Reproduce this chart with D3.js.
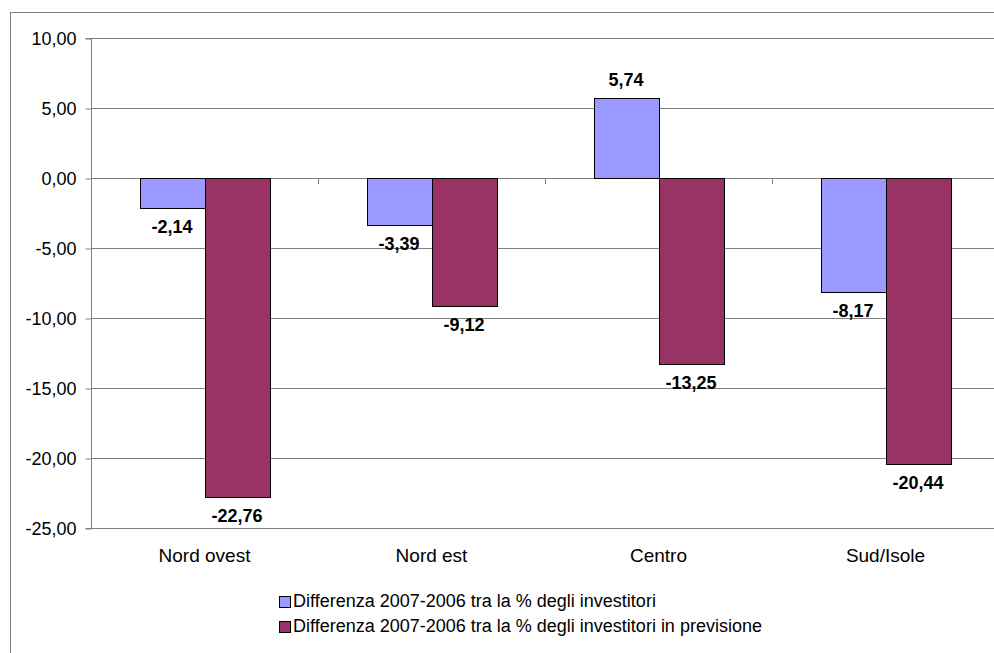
<!DOCTYPE html>
<html>
<head>
<meta charset="utf-8">
<script src="https://cdn.jsdelivr.net/npm/d3@7"></script>
<style>
  body { margin: 0; background: #fff; }
  text { font-family: "Liberation Sans", Arial, sans-serif; fill: #000; }
</style>
</head>
<body>
<script>
// categories and series
var categories = ["Nord ovest", "Nord est", "Centro", "Sud/Isole"];
var seriesNames = [
    "Differenza 2007-2006 tra la % degli investitori",
    "Differenza 2007-2006 tra la % degli investitori in previsione"
];
var investitori = [-2.14, -3.39, 5.74, -8.17];
var previsione = [-22.76, -9.12, -13.25, -20.44];
var yTicks = [10, 5, 0, -5, -10, -15, -20, -25];
var colors = ["#9999FF", "#993366"];

var w = 994, h = 653;

var svg = d3.select("body").append("svg")
    .attr("width", w)
    .attr("height", h);

// outer chart border (runs off the right/bottom edge)
svg.append("rect")
    .attr("x", 10.5).attr("y", 12.5)
    .attr("width", 1000).attr("height", 700)
    .style("fill", "none")
    .style("stroke", "#808080");

// plot area
var plotLeft = 91, plotRight = 999, plotTop = 38, plotBottom = 528;

var y = d3.scaleLinear()
    .domain([-25, 10])
    .range([plotBottom, plotTop]);

var x = d3.scaleBand()
    .domain(categories)
    .range([plotLeft, plotRight]);

var barW = 65;

// gridlines
svg.selectAll(".grid")
    .data(yTicks)
    .enter()
    .append("line")
    .attr("class", "grid")
    .attr("x1", plotLeft).attr("x2", plotRight)
    .attr("y1", function (d) { return Math.round(y(d)) + 0.5; })
    .attr("y2", function (d) { return Math.round(y(d)) + 0.5; })
    .style("stroke", "#808080");

// italian number format with plain hyphen minus
var itLocale = d3.formatLocale({
    decimal: ",", thousands: ".", grouping: [3], currency: ["", " €"], minus: "-"
});
var fmt = itLocale.format(".2f");

// y axis
var yAxis = d3.axisLeft(y)
    .tickValues(yTicks)
    .tickSize(6)
    .tickPadding(9)
    .tickFormat(fmt);

var axis = svg.append("g")
    .attr("transform", "translate(" + (plotLeft + 0.5) + ",0.5)")
    .call(yAxis);
axis.selectAll("path, line").style("stroke", "#808080");
axis.select(".domain").attr("d", "M-6," + plotTop + "H0V" + plotBottom + "H-6");
axis.selectAll("text")
    .style("font-size", "18px")
    .style("font-family", "Liberation Sans, Arial, sans-serif");

// category tick marks on zero line
svg.selectAll(".ctick")
    .data(categories.slice(1))
    .enter()
    .append("line")
    .attr("x1", function (d) { return Math.round(x(d)) + 0.5; })
    .attr("x2", function (d) { return Math.round(x(d)) + 0.5; })
    .attr("y1", y(0))
    .attr("y2", y(0) + 6)
    .style("stroke", "#808080");

// bars
var series = [investitori, previsione];
series.forEach(function (vals, s) {
    svg.selectAll(".bar" + s)
        .data(vals)
        .enter()
        .append("rect")
        .attr("class", "bar" + s)
        .attr("x", function (d, i) {
            return Math.round(x(categories[i]) + x.bandwidth() / 2 - barW + s * barW) + 0.5;
        })
        .attr("y", function (d) { return Math.round(y(Math.max(0, d))) + 0.5; })
        .attr("width", barW)
        .attr("height", function (d) { return Math.round(Math.abs(y(d) - y(0))); })
        .style("fill", colors[s])
        .style("stroke", "#000")
        .style("stroke-width", 1);

    // value labels
    svg.selectAll(".lab" + s)
        .data(vals)
        .enter()
        .append("text")
        .attr("class", "lab" + s)
        .attr("text-anchor", "middle")
        .attr("x", function (d, i) {
            return x(categories[i]) + x.bandwidth() / 2 - barW / 2 + s * barW;
        })
        .attr("y", function (d) { return d >= 0 ? y(d) - 12 : y(d) + 25; })
        .style("font-size", "18px")
        .style("font-weight", "bold")
        .text(fmt);
});

// category labels
svg.selectAll(".cat")
    .data(categories)
    .enter()
    .append("text")
    .attr("class", "cat")
    .attr("text-anchor", "middle")
    .attr("x", function (d) { return x(d) + x.bandwidth() / 2; })
    .attr("y", 562)
    .style("font-size", "19px")
    .text(function (d) { return d; });

// legend
var legend = svg.selectAll(".legend")
    .data(seriesNames)
    .enter()
    .append("g")
    .attr("class", "legend")
    .attr("transform", function (d, i) { return "translate(279," + (596 + i * 25) + ")"; });

legend.append("rect")
    .attr("x", 0.5).attr("y", 0.5)
    .attr("width", 11).attr("height", 11)
    .style("fill", function (d, i) { return colors[i]; })
    .style("stroke", "#000");

legend.append("text")
    .attr("x", 14)
    .attr("y", 11)
    .style("font-size", "18px")
    .text(function (d) { return d; });
</script>
</body>
</html>
